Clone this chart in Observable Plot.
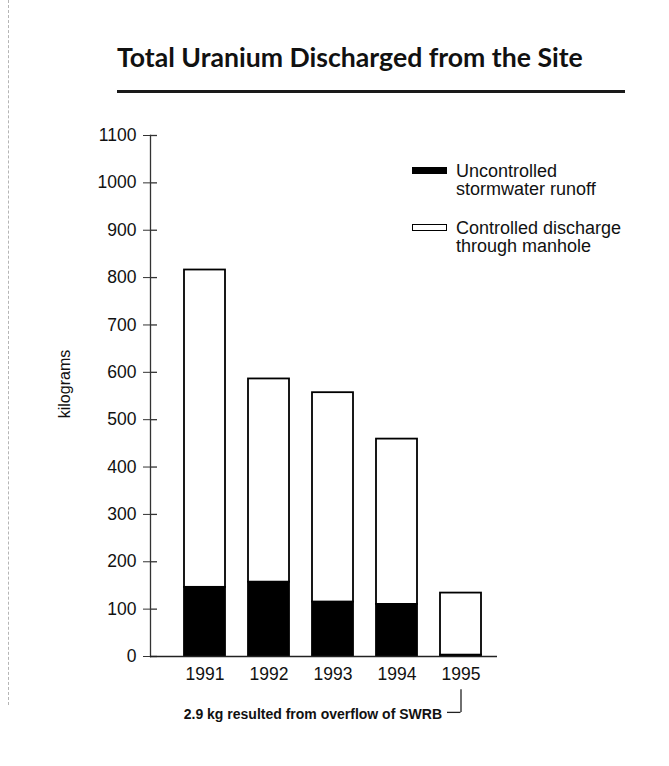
<!DOCTYPE html>
<html>
<head>
<meta charset="utf-8">
<script src="https://cdn.jsdelivr.net/npm/d3@7"></script>
<script src="https://cdn.jsdelivr.net/npm/@observablehq/plot@0.6"></script>
<style>
  body { margin: 0; background: #fff; font-family: "Liberation Sans", Arial, sans-serif; color: #111; }
  #wrap { position: relative; width: 669px; height: 766px; overflow: hidden; background: #fff; }
  #edge { position: absolute; left: 8px; top: 0; height: 705px; border-left: 1px dashed #b5b5b5; z-index: 5; }
  #title { position: absolute; left: 117px; top: 44px; font-family: Lato, "Open Sans", sans-serif; font-weight: 700; font-size: 27px; line-height: 1; white-space: nowrap; color: #111; }
  #rule { position: absolute; left: 117px; top: 90px; width: 508px; height: 3px; background: #1a1a1a; }
  #chart { position: absolute; left: 0; top: 100px; }
  #ylabel { position: absolute; left: 65px; top: 384px; transform: translate(-50%, -50%) rotate(-90deg); font-size: 16px; white-space: nowrap; z-index: 5; }
  .sw { position: absolute; width: 35px; box-sizing: border-box; z-index: 5; }
  .lt { position: absolute; left: 456px; font-size: 18px; line-height: 18.3px; white-space: nowrap; z-index: 5; }
</style>
</head>
<body>
<div id="wrap">
  <div id="edge"></div>
  <div id="title"></div>
  <div id="rule"></div>
  <div id="chart"></div>
  <div id="ylabel"></div>
  <div class="sw" id="sw1" style="left:412px; top:167px; height:7px; background:#000;"></div>
  <div class="lt" id="lt1" style="top:161.5px;"></div>
  <div class="sw" id="sw2" style="left:412px; top:224px; height:7px; background:#fff; border:1.5px solid #000;"></div>
  <div class="lt" id="lt2" style="top:218.5px;"></div>
</div>
<script>
// ---- data ----
const titleText = "Total Uranium Discharged from the Site";
const yLabel = "kilograms";
const years = ["1991", "1992", "1993", "1994", "1995"];
const seriesNames = ["Uncontrolled stormwater runoff", "Controlled discharge through manhole"];
const legendLines = [["Uncontrolled", "stormwater runoff"], ["Controlled discharge", "through manhole"]];
const uncontrolled = [146, 157, 115, 110, 2.9];
const controlled = [670, 429, 442, 349, 131];
const yTicks = [0, 100, 200, 300, 400, 500, 600, 700, 800, 900, 1000, 1100];
const noteText = "2.9 kg resulted from overflow of SWRB";
const noteYear = "1995";
const bracketY = [-70, -118];

// ---- build table ----
const data = years.flatMap((yr, i) => [
  {year: yr, type: seriesNames[0], value: uncontrolled[i]},
  {year: yr, type: seriesNames[1], value: controlled[i]}
]);

// ---- text ----
const t = document.getElementById("title");
t.textContent = titleText;
const w0 = t.getBoundingClientRect().width;
const fs = 27 * 466 / w0;
t.style.fontSize = fs + "px";
t.style.top = (68 - 0.887 * fs) + "px";
document.getElementById("ylabel").textContent = yLabel;
document.getElementById("lt1").innerHTML = legendLines[0].join("<br>");
document.getElementById("lt2").innerHTML = legendLines[1].join("<br>");

// ---- chart ----
const W = 669, H = 630;
const mL = 150, mR = 154.5, mT = 35, mB = 74;
const frameW = W - mL - mR;

const chart = Plot.plot({
  width: W, height: H,
  marginLeft: mL, marginRight: mR, marginTop: mT, marginBottom: mB,
  style: {fontFamily: "Liberation Sans, Arial, sans-serif", fontSize: "17.5px", color: "#111", background: "transparent", overflow: "visible"},
  x: {domain: years, paddingInner: 0.353, paddingOuter: 0.485, label: null},
  y: {domain: [0, 1100], label: null},
  color: {domain: seriesNames, range: ["#000", "#fff"]},
  marks: [
    Plot.barY(data, {x: "year", y: "value", fill: "type", stroke: "#000", strokeWidth: 1.8}),
    Plot.frame({anchor: "left", stroke: "#333", strokeWidth: 1.3}),
    Plot.ruleY(yTicks, {insetRight: frameW - 7, stroke: "#333", strokeWidth: 1.3}),
    Plot.axisY({ticks: yTicks, tickSize: 7, tickPadding: 7, label: null, tickFormat: d => String(d), stroke: "#333"}),
    Plot.axisX({tickSize: 0, tickPadding: 11, label: null}),
    Plot.ruleY([0], {insetRight: 17.5, stroke: "#222", strokeWidth: 1.5}),
    Plot.text([noteText], {x: () => noteYear, y: () => 0, text: d => d, dy: 58.5, dx: -19, textAnchor: "end", fontWeight: "bold", fontSize: 14}),
    Plot.ruleX([noteYear], {y1: bracketY[0], y2: bracketY[1], stroke: "#222", strokeWidth: 1.3}),
    Plot.ruleY([bracketY[1]], {x1: () => noteYear, x2: () => noteYear, insetLeft: 7, insetRight: 20.5, stroke: "#222", strokeWidth: 1.3})
  ]
});
document.getElementById("chart").appendChild(chart);
</script>
</body>
</html>
